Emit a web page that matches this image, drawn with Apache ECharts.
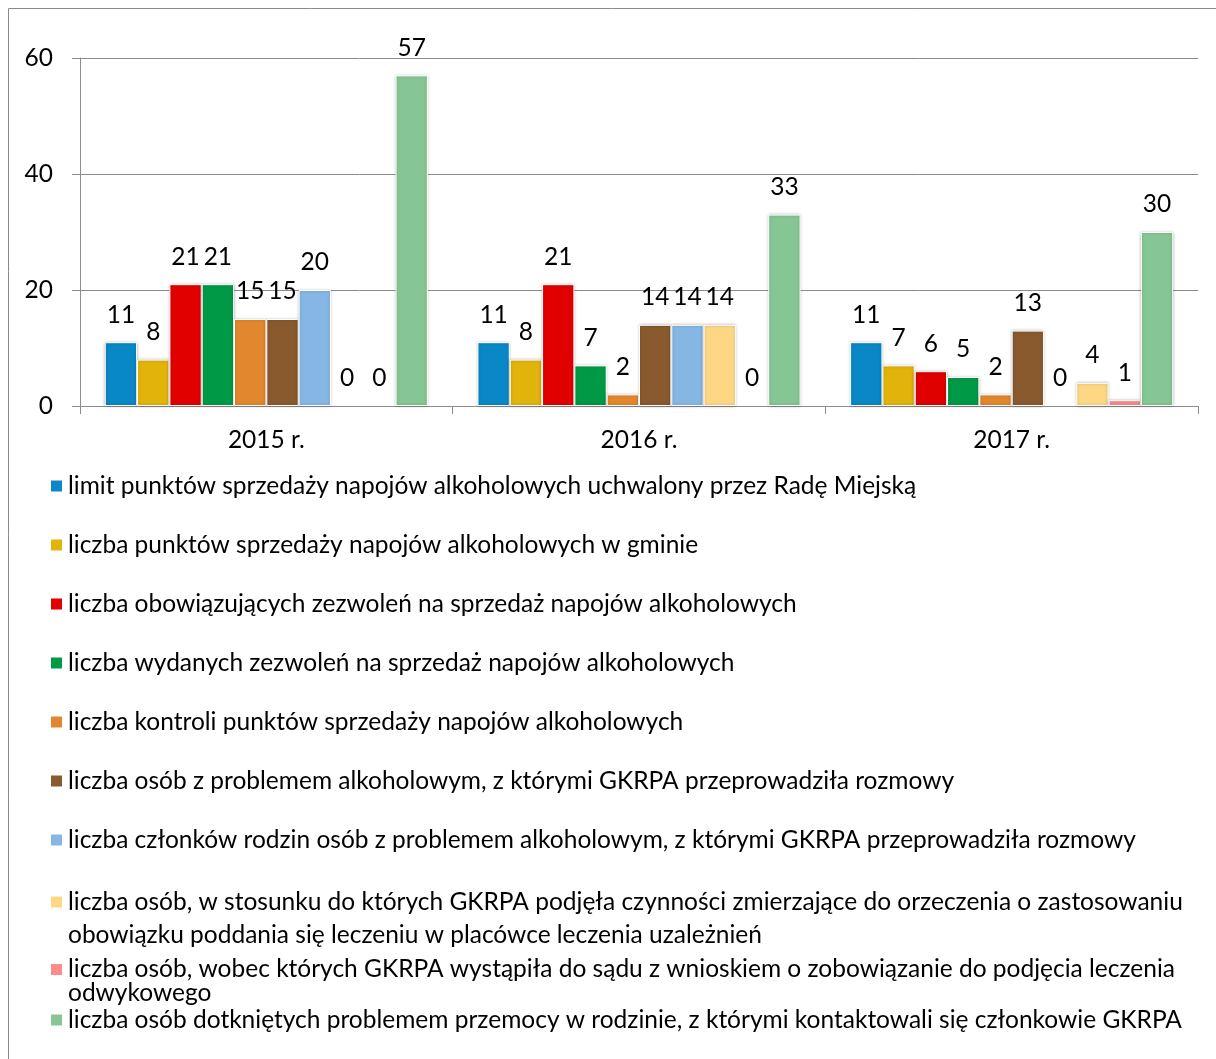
<!DOCTYPE html>
<html>
<head>
<meta charset="utf-8">
<script src="https://cdn.jsdelivr.net/npm/echarts@6/dist/echarts.min.js"></script>
<style>
* { margin: 0; padding: 0; }
html, body { background: #fff; }
#chart { width: 1216px; height: 1059px; }
</style>
</head>
<body>
<div id="chart"></div>
<script>
// lata
var categories = ["2015 r.", "2016 r.", "2017 r."];

var seriesNames = [
  "limit punktów sprzedaży napojów alkoholowych uchwalony przez Radę Miejską",
  "liczba punktów sprzedaży napojów alkoholowych w gminie",
  "liczba obowiązujących zezwoleń na sprzedaż napojów alkoholowych",
  "liczba wydanych zezwoleń na sprzedaż napojów alkoholowych",
  "liczba kontroli punktów sprzedaży napojów alkoholowych",
  "liczba osób z problemem alkoholowym, z którymi GKRPA przeprowadziła rozmowy",
  "liczba członków rodzin osób z problemem alkoholowym, z którymi GKRPA przeprowadziła rozmowy",
  "liczba osób, w stosunku do których GKRPA podjęła czynności zmierzające do orzeczenia o zastosowaniu obowiązku poddania się leczeniu w placówce leczenia uzależnień",
  "liczba osób, wobec których GKRPA wystąpiła do sądu z wnioskiem o zobowiązanie do podjęcia leczenia odwykowego",
  "liczba osób dotkniętych problemem przemocy w rodzinie, z którymi kontaktowali się członkowie GKRPA"
];

// wartosci dla 2015, 2016, 2017
var limitPunktow = [11, 11, 11];
var punktySprzedazy = [8, 8, 7];
var obowiazujaceZezwolenia = [21, 21, 6];
var wydaneZezwolenia = [21, 7, 5];
var kontrole = [15, 2, 2];
var osobyZProblemem = [15, 14, 13];
var czlonkowieRodzin = [20, 14, 0];
var orzeczenia = [0, 14, 4];
var wnioskiDoSadu = [0, 0, 1];
var przemoc = [57, 33, 30];

var yTicks = [0, 20, 40, 60];

var allValues = [limitPunktow, punktySprzedazy, obowiazujaceZezwolenia, wydaneZezwolenia,
  kontrole, osobyZProblemem, czlonkowieRodzin, orzeczenia, wnioskiDoSadu, przemoc];

var colors = ["#0A87C6", "#E2B30B", "#E10000", "#009A46", "#E2872E",
  "#885A2E", "#86B7E4", "#FED785", "#FE8B8B", "#85C694"];

// zawijanie dlugich nazw w legendzie
var legendBreaks = {
  7: ["liczba osób, w stosunku do których GKRPA podjęła czynności zmierzające do orzeczenia o zastosowaniu", "obowiązku poddania się leczeniu w placówce leczenia uzależnień"],
  8: ["liczba osób, wobec których GKRPA wystąpiła do sądu z wnioskiem o zobowiązanie do podjęcia leczenia", "odwykowego"]
};
var legendCenters = [486, 545, 604, 663, 722, 781, 840, 902, 969, 1020];
var legendLineH = [33, 33, 33, 33, 33, 33, 33, 33, 24, 33];

var FONT = "Lato";
var FS = 24.5;

var legends = seriesNames.map(function (name, i) {
  var lh = legendLineH[i];
  var two = !!legendBreaks[i];
  return {
    data: [name],
    orient: "vertical",
    left: 49,
    top: two ? legendCenters[i] - 1.5 * lh : legendCenters[i] - lh / 2,
    icon: "rect",
    itemWidth: 13,
    itemHeight: 13,
    selectedMode: false,
    padding: 0,
    formatter: function (n) {
      // pusta linia na gorze, zeby ikona stala przy pierwszej linii
      return two ? "\n" + legendBreaks[i].join("\n") : n;
    },
    textStyle: {
      fontFamily: FONT,
      fontSize: FS,
      color: "#000",
      lineHeight: lh
    }
  };
});

var series = seriesNames.map(function (name, i) {
  return {
    name: name,
    type: "bar",
    data: allValues[i].map(function (v) {
      // zerowe slupki bez obramowania, tylko etykieta
      if (v === 0) {
        return { value: v, itemStyle: { color: "rgba(0,0,0,0)", borderWidth: 0, shadowBlur: 0 } };
      }
      return v;
    }),
    barGap: "0%",
    barCategoryGap: "13.3%",
    itemStyle: {
      color: colors[i],
      borderColor: "#fff",
      borderWidth: 1,
      shadowColor: "rgba(0,0,0,0.25)",
      shadowBlur: 3
    },
    label: {
      show: true,
      position: "top",
      distance: 15,
      fontFamily: FONT,
      fontSize: FS,
      color: "#000"
    }
  };
});

var chart = echarts.init(document.getElementById("chart"));
chart.setOption({
  backgroundColor: "#fff",
  animation: false,
  graphic: [{
    type: "rect",
    shape: { x: 8.5, y: 8.5, width: 1400, height: 1200 },
    style: { fill: "none", stroke: "#8a8a8a", lineWidth: 1 },
    silent: true
  }],
  legend: legends,
  grid: { left: 80, right: 18, top: 58, bottom: 653, containLabel: false },
  xAxis: {
    type: "category",
    data: categories,
    axisLine: { lineStyle: { color: "#8c8c8c", width: 1 } },
    axisTick: { show: true, length: 8, lineStyle: { color: "#8c8c8c" } },
    axisLabel: { fontFamily: FONT, fontSize: FS, color: "#000", margin: 22 }
  },
  yAxis: {
    type: "value",
    min: yTicks[0],
    max: yTicks[yTicks.length - 1],
    interval: 20,
    axisLine: { show: true, lineStyle: { color: "#8c8c8c", width: 1 } },
    axisTick: { show: true, length: 8, lineStyle: { color: "#8c8c8c" } },
    splitLine: { lineStyle: { color: "#8c8c8c", width: 1 } },
    axisLabel: { fontFamily: FONT, fontSize: FS, color: "#000", margin: 27 }
  },
  series: series
});
</script>
</body>
</html>
